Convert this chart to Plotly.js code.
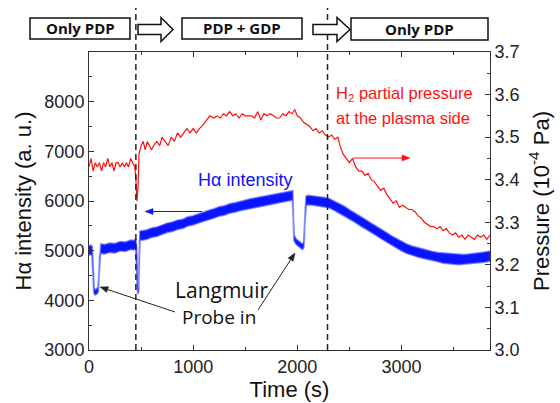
<!DOCTYPE html>
<html>
<head>
<meta charset="utf-8">
<script src="https://cdn.plot.ly/plotly-3.0.1.min.js"></script>
<style>html,body{margin:0;padding:0;background:#fff;}#chart{width:560px;height:403px;}</style>
</head>
<body>
<div id="chart"></div>
<script>
// ---- data ----
const phaseLabels = ["Only PDP", "PDP + GDP", "Only PDP"];
const phaseBoundaries = [450, 2290];   // s
const leftTickVals = [3000, 4000, 5000, 6000, 7000, 8000];
const leftTickText = ["3000", "4000", "5000", "6000", "7000", "8000"];

// H-alpha intensity (a.u.) : centre of the noisy band and its half-width
const blueT = [0,15,30,40,48,60,75,88,95,105,115,150,200,250,300,350,400,430,450,458,464,470,476,482,490,550,600,650,700,750,800,850,900,950,1000,1050,1100,1150,1200,1250,1300,1350,1400,1450,1500,1550,1600,1650,1700,1750,1800,1850,1900,1955,1962,1970,1990,2020,2050,2062,2072,2085,2100,2150,2200,2250,2300,2350,2400,2450,2500,2550,2600,2650,2700,2750,2800,2850,2900,2950,3000,3050,3100,3150,3200,3250,3300,3350,3400,3450,3500,3550,3600,3650,3700,3750,3800,3850];
const blueVal = [5000,5020,4990,4650,4200,4160,4180,4220,4500,4950,5040,5030,5060,5050,5090,5080,5120,5110,5150,4900,4300,4180,4250,4900,5300,5320,5360,5380,5420,5460,5480,5520,5540,5590,5610,5650,5680,5720,5750,5790,5810,5850,5870,5900,5920,5950,5970,5990,6010,6030,6050,6070,6090,6110,5600,5250,5180,5130,5080,5120,5600,6000,6020,6010,6000,5980,5960,5910,5860,5800,5730,5670,5600,5540,5470,5410,5340,5280,5210,5150,5090,5040,5000,4970,4940,4910,4890,4870,4850,4840,4830,4820,4820,4830,4840,4860,4870,4890];
const blueHalf = [90,90,90,30,50,50,50,50,30,30,90,90,90,90,90,90,90,90,90,30,30,50,50,30,90,90,90,90,90,90,90,90,90,90,90,90,90,90,90,90,90,90,90,90,90,90,90,90,90,90,90,90,90,90,30,50,50,50,50,50,30,90,90,90,90,90,90,90,90,90,90,90,90,90,90,90,90,90,90,90,90,90,90,90,90,90,90,90,100,100,100,100,100,100,100,100,100,100];

// H2 partial pressure (1e-4 Pa)
const redT = [0,20,40,60,80,100,120,140,160,180,200,220,240,260,280,300,320,340,360,380,400,420,440,450,460,470,480,500,520,540,560,580,600,620,650,680,700,730,760,790,820,850,880,910,940,970,1000,1030,1060,1100,1130,1160,1200,1230,1260,1290,1320,1350,1380,1410,1440,1470,1500,1530,1560,1590,1620,1650,1680,1710,1740,1770,1800,1830,1860,1890,1920,1950,1975,2000,2030,2060,2090,2120,2150,2180,2210,2240,2270,2300,2330,2360,2390,2410,2440,2470,2500,2530,2560,2590,2620,2650,2680,2710,2740,2770,2800,2830,2860,2890,2920,2950,2980,3010,3040,3070,3100,3130,3160,3190,3220,3250,3280,3310,3340,3370,3400,3430,3460,3490,3520,3550,3580,3610,3640,3670,3700,3730,3760,3790,3820,3850];
const redP = [3.43,3.45,3.42,3.44,3.43,3.44,3.42,3.44,3.43,3.45,3.43,3.44,3.42,3.44,3.44,3.43,3.44,3.43,3.44,3.43,3.45,3.44,3.43,3.40,3.35,3.38,3.46,3.48,3.49,3.47,3.49,3.48,3.47,3.48,3.49,3.48,3.50,3.49,3.48,3.50,3.49,3.51,3.50,3.51,3.52,3.51,3.52,3.51,3.52,3.53,3.54,3.55,3.545,3.55,3.545,3.555,3.55,3.56,3.55,3.555,3.545,3.555,3.55,3.55,3.55,3.545,3.56,3.54,3.555,3.55,3.555,3.55,3.545,3.545,3.555,3.55,3.56,3.555,3.565,3.55,3.545,3.535,3.53,3.525,3.515,3.52,3.51,3.515,3.505,3.50,3.505,3.495,3.50,3.48,3.46,3.45,3.44,3.45,3.43,3.42,3.42,3.41,3.415,3.40,3.395,3.385,3.375,3.38,3.365,3.355,3.345,3.35,3.335,3.34,3.335,3.33,3.33,3.325,3.315,3.31,3.30,3.295,3.29,3.29,3.285,3.29,3.28,3.285,3.275,3.27,3.275,3.265,3.27,3.26,3.27,3.265,3.26,3.27,3.265,3.27,3.26,3.27];

// ---- build traces ----
const bandX = blueT.concat(blueT.slice().reverse());
const bandY = blueVal.map((v,i)=>v+blueHalf[i]).concat(blueVal.map((v,i)=>v-blueHalf[i]).reverse());

const traces = [
  {x: bandX, y: bandY, type:'scatter', mode:'lines', fill:'toself', fillcolor:'#0a14ff',
   line:{color:'rgba(40,55,255,0.55)', width:2}, yaxis:'y', hoverinfo:'skip', showlegend:false},
  {x: redT, y: redP, type:'scatter', mode:'lines', line:{color:'#ff1010', width:1.2},
   yaxis:'y2', showlegend:false}
];

// pixel -> paper helpers (plot area: x 89..490, y 52..350)
const L=89, R=490, T=52, B=350;
const px = x => (x-L)/(R-L);
const py = y => (B-y)/(B-T);
const P = pts => 'M' + pts.map(p => px(p[0]) + ',' + py(p[1])).join(' L') + ' Z';

const shapes = [];
phaseBoundaries.forEach(t => shapes.push({type:'line', xref:'x', yref:'paper', x0:t, x1:t, y0:0, y1:py(8),
  line:{color:'#222', width:1.5, dash:'6px,4px'}, layer:'above'}));

const boxes = [[30,130,18,39],[182,302,18,39],[351,488,18,40]];
boxes.forEach(b => shapes.push({type:'rect', xref:'paper', yref:'paper', x0:px(b[0]), x1:px(b[1]), y0:py(b[3]), y1:py(b[2]),
  line:{color:'#111', width:1.5}, fillcolor:'white'}));

function blockArrow(x0, xh, x1, yc) {
  return P([[x0,yc-5],[xh,yc-5],[xh,yc-12],[x1,yc],[xh,yc+12],[xh,yc+5],[x0,yc+5]]);
}
shapes.push({type:'path', xref:'paper', yref:'paper', path: blockArrow(138,161,173,29.5), line:{color:'#111', width:1.5}, fillcolor:'white'});
shapes.push({type:'path', xref:'paper', yref:'paper', path: blockArrow(313,337,350,29.5), line:{color:'#111', width:1.5}, fillcolor:'white'});

// thin pointer arrows (tail -> head), in pixels
function pointer(tx,ty,hx,hy,color) {
  const dx = hx-tx, dy = hy-ty, len = Math.hypot(dx,dy), ux = dx/len, uy = dy/len;
  const hl = 8, hw = 3;
  const bx = hx-ux*hl, by = hy-uy*hl;
  shapes.push({type:'line', xref:'paper', yref:'paper', x0:px(tx), y0:py(ty), x1:px(bx), y1:py(by), line:{color:color, width:1}});
  shapes.push({type:'path', xref:'paper', yref:'paper', path:P([[hx,hy],[bx-uy*hw,by+ux*hw],[bx+uy*hw,by-ux*hw]]),
    fillcolor:color, line:{color:color, width:0.5}});
}
pointer(202,211.5,145,211.5,'#0a14ff');
pointer(353,158,410,158,'#ff1010');
pointer(175,312,100,287,'#222');
pointer(258,310,295,253,'#222');

const annotations = [];
const boxFont = {family:'"Open Sans", sans-serif', size:15, color:'#111'};
boxes.forEach((b,i) => annotations.push({xref:'paper', yref:'paper', x:px((b[0]+b[1])/2), y:py((b[2]+b[3])/2),
  text:'<b>'+phaseLabels[i]+'</b>', showarrow:false, font:boxFont, xanchor:'center', yanchor:'middle'}));

const txt = (x,y,text,color,size,family) => ({xref:'paper', yref:'paper', x:px(x), y:py(y), text:text, showarrow:false,
  xanchor:'left', yanchor:'middle', font:{family:family||'"Liberation Sans", Arial, sans-serif', size:size, color:color}});
annotations.push(txt(196,180,'Hα intensity','#0a14ff',18));
annotations.push(txt(334,94,'H<sub>2</sub> partial pressure','#ff1010',16.5));
annotations.push(txt(334,118,'at the plasma side','#ff1010',16.5));
annotations.push(txt(173,290,'Langmuir','#111',21,'"Open Sans", sans-serif'));
annotations.push(txt(180,317,'Probe in','#111',19,'"Open Sans", sans-serif'));

const tickFont = {family:'"Liberation Sans", Arial, sans-serif', size:18, color:'#222'};
const titleFont = {family:'"Liberation Sans", Arial, sans-serif', size:22, color:'#111'};
const axBase = {showgrid:false, zeroline:false, showline:true, linecolor:'#333', linewidth:1,
  ticks:'inside', ticklen:5, tickwidth:1, tickcolor:'#333', tickfont:tickFont};

const layout = {
  width:560, height:403, margin:{l:89, r:70, t:52, b:53},
  paper_bgcolor:'white', plot_bgcolor:'white', showlegend:false,
  xaxis: Object.assign({}, axBase, {range:[0,3850], dtick:1000, tick0:0, mirror:'ticks',
    minor:{ticks:'inside', ticklen:3, dtick:500, tickcolor:'#333'},
    title:{text:'Time (s)', font:titleFont, standoff:6}}),
  yaxis: Object.assign({}, axBase, {range:[3000,9000], tickmode:'array', tickvals:leftTickVals, ticktext:leftTickText,
    minor:{ticks:'inside', ticklen:3, tickmode:'linear', tick0:3000, dtick:500, tickcolor:'#333'},
    title:{text:'Hα intensity (a. u.)', font:titleFont, standoff:6}}),
  yaxis2: Object.assign({}, axBase, {range:[3.0,3.7], dtick:0.1, tick0:3.0, tickformat:'.1f',
    overlaying:'y', side:'right',
    minor:{ticks:'inside', ticklen:3, dtick:0.05, tickcolor:'#333'},
    title:{text:'Pressure (10<sup>-4</sup> Pa)', font:titleFont, standoff:14}}),
  shapes: shapes, annotations: annotations
};

Plotly.newPlot('chart', traces, layout, {displayModeBar:false, staticPlot:true});
</script>
</body>
</html>
